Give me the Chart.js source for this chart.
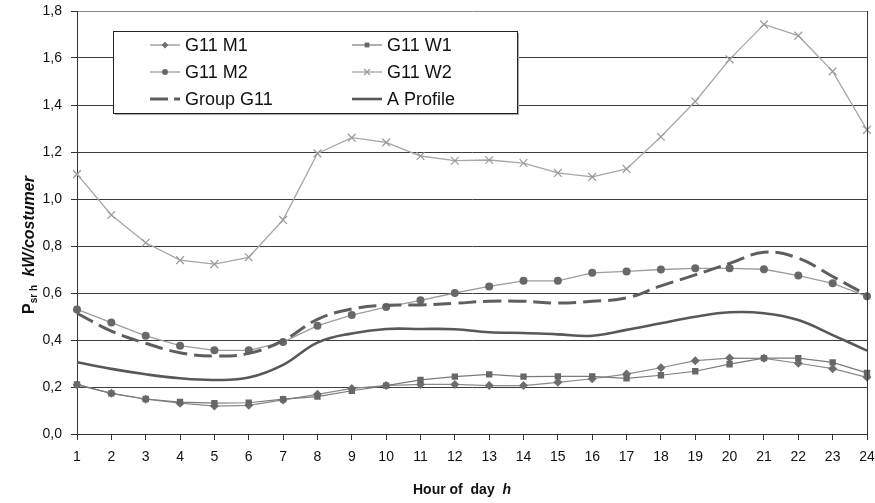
<!DOCTYPE html>
<html>
<head>
<meta charset="utf-8">
<script src="https://cdn.jsdelivr.net/npm/chart.js@4"></script>
<style>
  html, body { margin: 0; padding: 0; background: #fff; }
  #wrap { width: 875px; height: 503px; }
</style>
</head>
<body>
<div id="wrap"><canvas id="c" width="875" height="503"></canvas></div>
<script>
const hours = ['1','2','3','4','5','6','7','8','9','10','11','12','13','14','15','16','17','18','19','20','21','22','23','24'];
const g11M1 = [0.209,0.173,0.148,0.131,0.119,0.122,0.145,0.169,0.194,0.206,0.211,0.211,0.206,0.206,0.220,0.235,0.255,0.282,0.312,0.323,0.322,0.301,0.278,0.241];
const g11W1 = [0.211,0.173,0.149,0.136,0.131,0.133,0.148,0.159,0.184,0.206,0.230,0.244,0.254,0.244,0.245,0.245,0.237,0.250,0.267,0.297,0.323,0.323,0.305,0.260];
const g11M2 = [0.530,0.474,0.418,0.376,0.356,0.356,0.391,0.461,0.506,0.540,0.569,0.600,0.628,0.652,0.652,0.686,0.692,0.700,0.705,0.705,0.701,0.674,0.641,0.586];
const g11W2 = [1.106,0.932,0.814,0.740,0.723,0.752,0.911,1.194,1.261,1.241,1.183,1.163,1.166,1.153,1.111,1.094,1.128,1.265,1.415,1.594,1.743,1.695,1.543,1.294];
const groupG11 = [0.514,0.438,0.386,0.346,0.332,0.343,0.397,0.488,0.532,0.548,0.549,0.556,0.565,0.565,0.557,0.565,0.579,0.630,0.677,0.726,0.773,0.748,0.670,0.591];
const aProfile = [0.305,0.277,0.254,0.237,0.230,0.240,0.294,0.389,0.428,0.447,0.447,0.446,0.433,0.430,0.424,0.418,0.443,0.471,0.499,0.518,0.514,0.485,0.421,0.355];
const yTicks = [0,0.2,0.4,0.6,0.8,1.0,1.2,1.4,1.6,1.8];
const seriesLabels = ['G11 M1','G11 W1','G11 M2','G11 W2','Group G11','A Profile'];
const xTitle = ['Hour of  day', 'h'];
const yTitle = ['P', 'sr h', 'kW/costumer'];

const FONT = "'Liberation Sans', Arial, sans-serif";

const datasets = [
  { label: seriesLabels[4], data: groupG11, borderColor: '#5e5e5e', borderWidth: 3, borderDash: [18, 7], pointRadius: 0, tension: 0.4, fill: false },
  { label: seriesLabels[5], data: aProfile, borderColor: '#585858', borderWidth: 2.6, pointRadius: 0, tension: 0.4, fill: false },
  { label: seriesLabels[3], data: g11W2, borderColor: '#a6a6a6', borderWidth: 1.3, pointStyle: 'crossRot', pointRadius: 5.5, pointBorderWidth: 1.2, pointBorderColor: '#9a9a9a', pointBackgroundColor: '#9a9a9a', tension: 0, fill: false },
  { label: seriesLabels[2], data: g11M2, borderColor: '#9c9c9c', borderWidth: 1.3, pointStyle: 'circle', pointRadius: 4, pointBorderWidth: 0, pointBackgroundColor: '#686868', tension: 0, fill: false },
  { label: seriesLabels[1], data: g11W1, borderColor: '#7a7a7a', borderWidth: 1.2, pointStyle: 'rect', pointRadius: 4.5, pointBorderWidth: 0, pointBackgroundColor: '#676767', tension: 0, fill: false },
  { label: seriesLabels[0], data: g11M1, borderColor: '#8a8a8a', borderWidth: 1.2, pointStyle: 'rectRot', pointRadius: 4.5, pointBorderWidth: 0, pointBackgroundColor: '#6d6d6d', tension: 0, fill: false }
];

const decor = {
  id: 'decor',
  afterDatasetsDraw(chart) {
    const ctx = chart.ctx;
    const ca = chart.chartArea;
    ctx.save();
    // right border
    ctx.strokeStyle = '#333';
    ctx.lineWidth = 1;
    ctx.beginPath();
    ctx.moveTo(Math.round(ca.right) + 0.5, ca.top);
    ctx.lineTo(Math.round(ca.right) + 0.5, ca.bottom);
    ctx.stroke();

    // legend box
    const bx = 113, by = 31, bw = 404, bh = 82;
    ctx.fillStyle = '#aaa';
    ctx.fillRect(bx + 2, by + 2, bw, bh);
    ctx.fillStyle = '#fff';
    ctx.fillRect(bx, by, bw, bh);
    ctx.strokeStyle = '#222';
    ctx.strokeRect(bx + 0.5, by + 0.5, bw, bh);

    const order = [
      [seriesLabels[0], 5, 0, 0], [seriesLabels[1], 4, 1, 0],
      [seriesLabels[2], 3, 0, 1], [seriesLabels[3], 2, 1, 1],
      [seriesLabels[4], 0, 0, 2], [seriesLabels[5], 1, 1, 2]
    ];
    const colX = [150, 352];
    const rowY = [45, 72, 99];
    order.forEach(([lab, di, c, r]) => {
      const ds = chart.data.datasets[di];
      const x0 = colX[c], y0 = rowY[r];
      ctx.save();
      ctx.strokeStyle = ds.borderColor;
      ctx.lineWidth = ds.borderWidth;
      ctx.setLineDash(ds.borderDash ? [18, 6] : []);
      ctx.beginPath();
      ctx.moveTo(x0, y0);
      ctx.lineTo(x0 + 30, y0);
      ctx.stroke();
      ctx.setLineDash([]);
      if (ds.pointRadius > 0) {
        ctx.fillStyle = ds.pointBackgroundColor;
        ctx.strokeStyle = ds.pointBorderColor || ds.pointBackgroundColor;
        Chart.helpers.drawPoint(ctx, {
          pointStyle: ds.pointStyle,
          radius: ds.pointRadius * 0.75,
          rotation: 0,
          borderWidth: ds.pointBorderWidth
        }, x0 + 15, y0);
      }
      ctx.restore();
      ctx.fillStyle = '#111';
      ctx.font = '18px ' + FONT;
      ctx.textBaseline = 'middle';
      ctx.textAlign = 'left';
      ctx.fillText(lab, x0 + 35, y0 + 1);
    });

    // x title
    ctx.fillStyle = '#111';
    ctx.textBaseline = 'middle';
    ctx.font = 'bold 14px ' + FONT;
    const w1 = ctx.measureText(xTitle[0] + '  ').width;
    ctx.font = 'italic bold 14px ' + FONT;
    const w2 = ctx.measureText(xTitle[1]).width;
    let sx = 462 - (w1 + w2) / 2;
    ctx.font = 'bold 14px ' + FONT;
    ctx.textAlign = 'left';
    ctx.fillText(xTitle[0] + '  ', sx, 490);
    ctx.font = 'italic bold 14px ' + FONT;
    ctx.fillText(xTitle[1], sx + w1, 490);

    // y title (rotated)
    ctx.save();
    ctx.translate(28, 245);
    ctx.rotate(-Math.PI / 2);
    ctx.font = 'bold 16px ' + FONT;
    const pw = ctx.measureText(yTitle[0]).width;
    ctx.font = 'bold 10px ' + FONT;
    const sw = ctx.measureText(yTitle[1] + '   ').width;
    ctx.font = 'italic bold 16px ' + FONT;
    const kw = ctx.measureText(yTitle[2]).width;
    let tx = -(pw + sw + kw) / 2;
    ctx.textAlign = 'left';
    ctx.textBaseline = 'alphabetic';
    ctx.font = 'bold 16px ' + FONT;
    ctx.fillText(yTitle[0], tx, 6);
    ctx.font = 'bold 10px ' + FONT;
    ctx.fillText(yTitle[1], tx + pw, 9);
    ctx.font = 'italic bold 16px ' + FONT;
    ctx.fillText(yTitle[2], tx + pw + sw, 6);
    ctx.restore();

    ctx.restore();
  }
};

new Chart(document.getElementById('c'), {
  type: 'line',
  data: { labels: hours, datasets: datasets },
  options: {
    responsive: false,
    animation: false,
    devicePixelRatio: 1,
    layout: { padding: { left: 0, top: 11, right: 8, bottom: 0 } },
    plugins: { legend: { display: false }, tooltip: { enabled: false } },
    scales: {
      x: {
        type: 'category',
        offset: false,
        grid: { drawOnChartArea: false, tickLength: 6, color: '#333' },
        border: { color: '#333', width: 1 },
        ticks: { font: { size: 14, family: FONT }, color: '#111', padding: 9, maxRotation: 0, autoSkip: false },
        afterFit: s => { s.height = 69; s.paddingLeft = 0; s.paddingRight = 0; }
      },
      y: {
        min: 0, max: 1.8,
        afterBuildTicks: s => { s.ticks = yTicks.map(v => ({ value: v })); },
        grid: {
          color: c => (c.tick && Math.abs(c.tick.value - 1.8) < 1e-6) ? '#8a8a8a' : '#3c3c3c',
          tickColor: '#333', tickLength: 6
        },
        border: { color: '#333', width: 1 },
        ticks: { font: { size: 14, family: FONT }, color: '#111', padding: 9,
                 callback: v => Number(v).toFixed(1).replace('.', ',') },
        afterFit: s => { s.width = 77; s.paddingTop = 0; s.paddingBottom = 0; }
      }
    }
  },
  plugins: [decor]
});
</script>
</body>
</html>
